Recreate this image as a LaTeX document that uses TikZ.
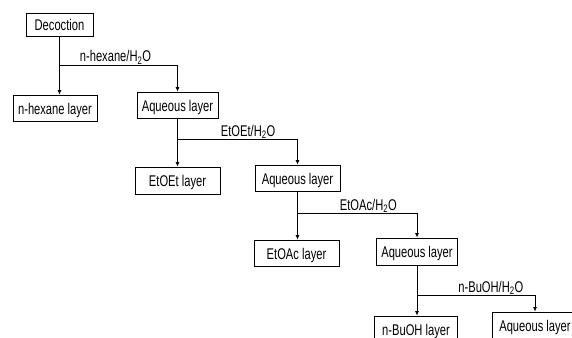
\documentclass[tikz,border=0pt]{standalone}
\usepackage{fontspec}
\setmainfont{Liberation Sans}[FakeStretch=0.72]
\usetikzlibrary{arrows.meta}

\tikzset{
  layer/.style={draw, line width=0.8pt, inner sep=0pt, text height=12.5pt, text depth=0pt},
  solvent/.style={anchor=base west, inner sep=0pt},
}

\begin{document}
\begin{tikzpicture}[x=1pt, y=-1pt, font=\fontsize{15.5}{17}\selectfont,
    >={Latex[length=4.5pt,width=4pt]}, line width=0.8pt]
        \useasboundingbox (0,0) rectangle (572,337);
        \clip (0,0) rectangle (572,337);
        % boxes
        \node[layer, minimum width=67, minimum height=23] (dec) at (59.5,24.5) {Decoction};
        \node[layer, minimum width=84, minimum height=26] (hex) at (55,108) {n-hexane layer};
        \node[layer, minimum width=81, minimum height=26] (aq1) at (177.5,105) {Aqueous layer};
        \node[layer, minimum width=85, minimum height=27] (eet) at (177.5,180.5) {EtOEt layer};
        \node[layer, minimum width=85, minimum height=26] (aq2) at (297.5,178) {Aqueous layer};
        \node[layer, minimum width=85, minimum height=26] (eac) at (296.5,253) {EtOAc layer};
        \node[layer, minimum width=81, minimum height=27] (aq3) at (417,251.5) {Aqueous layer};
        \node[layer, minimum width=83, minimum height=26] (nbu) at (416,329) {n-BuOH layer};
        \node[layer, minimum width=86, minimum height=26] (aq4) at (535,325) {Aqueous layer};
        % branch points
        \coordinate (b1) at (dec.south |- 0,65);
        \coordinate (b2) at (aq1.south |- 0,139);
        \coordinate (b3) at (aq2.south |- 0,213);
        \coordinate (b4) at (aq3.south |- 0,295);
        % connectors
        \draw[->] (dec.south) -- (dec.south |- hex.north);
        \draw[->] (b1) -| (aq1.north);
        \draw[->] (aq1.south) -- (aq1.south |- eet.north);
        \draw[->] (b2) -| (aq2.north);
        \draw[->] (aq2.south) -- (aq2.south |- eac.north);
        \draw[->] (b3) -| (aq3.north);
        \draw[->] (aq3.south) -- (aq3.south |- nbu.north);
        \draw[->] (b4) -| (aq4.north);
        % solvents
        \node[solvent] (s1) at ([xshift=20, yshift=3]b1) {n-hexane/H\textsubscript{2}O};
        \node[solvent] (s2) at ([xshift=43, yshift=3]b2) {EtOEt/H\textsubscript{2}O};
        \node[solvent] (s3) at ([xshift=42, yshift=3]b3) {EtOAc/H\textsubscript{2}O};
        \node[solvent] (s4) at ([xshift=41, yshift=3]b4) {n-BuOH/H\textsubscript{2}O};
      \end{tikzpicture}
\end{document}
